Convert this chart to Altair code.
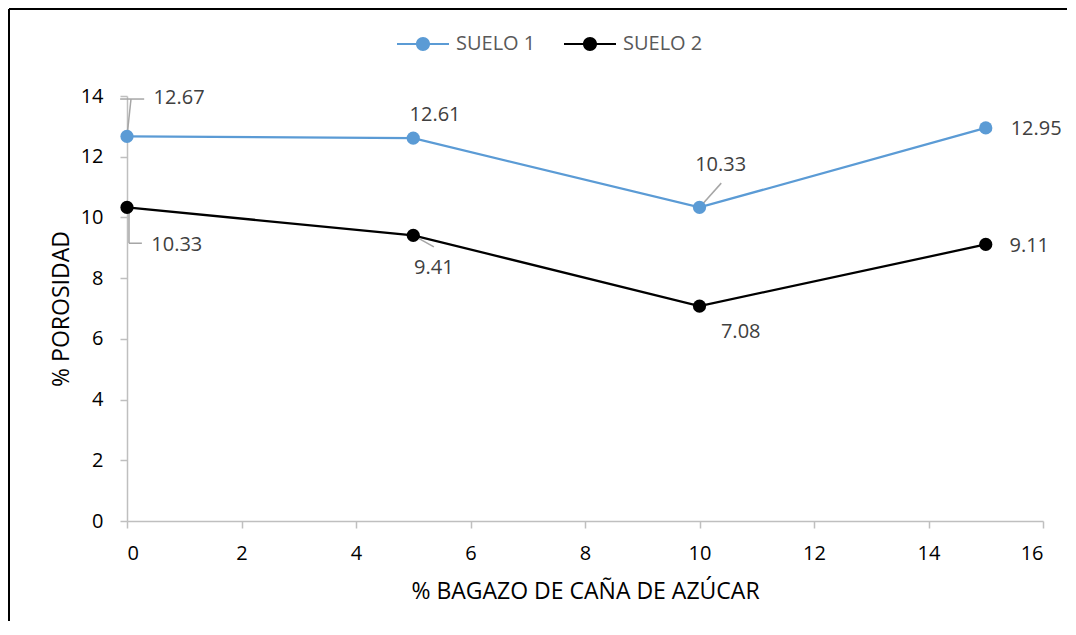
import altair as alt
import pandas as pd

# ---- data ----
x_vals = [0, 5, 10, 15]
suelo1 = [12.67, 12.61, 10.33, 12.95]
suelo2 = [10.33, 9.41, 7.08, 9.11]
series_names = ["SUELO 1", "SUELO 2"]
series_colors = ["#5b9bd5", "#000000"]

# data-label anchor positions (in data units)
lab1_x = [0.91, 5.38, 10.37, 15.88]
lab1_y = [13.93, 13.37, 11.73, 12.91]
lab2_x = [0.87, 5.36, 10.72, 15.76]
lab2_y = [9.09, 8.33, 6.23, 9.06]

# leader lines (data units): x, y, x2, y2
lead_x = [0.0, -0.12, 0.035, 0.035, 5.0, 10.0]
lead_y = [12.67, 13.9, 10.2, 9.15, 9.41, 10.33]
lead_x2 = [0.07, 0.30, 0.035, 0.26, 5.36, 10.38]
lead_y2 = [13.9, 13.9, 9.15, 9.15, 9.03, 11.13]

FONT = "Open Sans"

pts = pd.DataFrame({
    "x": x_vals * 2,
    "y": suelo1 + suelo2,
    "serie": [series_names[0]] * 4 + [series_names[1]] * 4,
})
labels = pd.DataFrame({
    "lx": lab1_x + lab2_x,
    "ly": lab1_y + lab2_y,
    "txt": [f"{v:.2f}" for v in suelo1 + suelo2],
})
leads = pd.DataFrame({"x": lead_x, "y": lead_y, "x2": lead_x2, "y2": lead_y2})

xscale = alt.Scale(domain=[0, 16], nice=False, zero=False)
yscale = alt.Scale(domain=[0, 14], nice=False)
color = alt.Scale(domain=series_names, range=series_colors)

# legend symbol: a thin filled bar (the line) plus a filled dot
LEG_PATH = ("M-2.6,-0.11L2.6,-0.11L2.6,0.11L-2.6,0.11Z"
            "M0.7,0A0.7,0.7,0,1,1,-0.7,0A0.7,0.7,0,1,1,0.7,0Z")

xaxis = alt.Axis(values=list(range(0, 17, 2)), format="d", title="% BAGAZO DE CAÑA DE AZÚCAR",
                 grid=False, labelFont=FONT, labelFontSize=20, labelColor="#000000",
                 labelPadding=15, tickSize=7, tickColor="#bfbfbf", domainColor="#bfbfbf",
                 domainWidth=1.5, tickWidth=1.5,
                 titleFont=FONT, titleFontSize=23, titleFontWeight="normal",
                 titleColor="#000000", titlePadding=17)
yaxis = alt.Axis(values=list(range(0, 15, 2)), format="d", title="% POROSIDAD",
                 grid=False, labelFont=FONT, labelFontSize=20, labelColor="#000000",
                 labelPadding=17, tickSize=7, tickColor="#bfbfbf", domainColor="#bfbfbf",
                 domainWidth=1.5, tickWidth=1.5,
                 titleFont=FONT, titleFontSize=23, titleFontWeight="normal",
                 titleColor="#000000", titlePadding=7)

legend = alt.Legend(
    title=None, orient="none", direction="horizontal", legendX=286, legendY=-62,
    labelFont=FONT, labelFontSize=20, labelColor="#595959",
    symbolType=LEG_PATH, symbolSize=400, symbolStrokeWidth=0, symbolOpacity=1,
    labelOffset=23, columnPadding=28, padding=0,
)

base = alt.Chart(pts)

line_layers = [
    base.transform_filter(alt.datum.serie == name)
        .mark_line(strokeWidth=2.25, color=col)
        .encode(x=alt.X("x:Q", scale=xscale, axis=xaxis),
                y=alt.Y("y:Q", scale=yscale, axis=yaxis))
    for name, col in zip(series_names, series_colors)
]

leader = alt.Chart(leads).mark_rule(color="#a6a6a6", strokeWidth=1.5).encode(
    x="x:Q", y="y:Q", x2="x2:Q", y2="y2:Q",
)

points = base.mark_point(filled=True, size=175, opacity=1).encode(
    x="x:Q", y="y:Q",
    color=alt.Color("serie:N", scale=color, legend=legend),
)

texts = alt.Chart(labels).mark_text(font=FONT, fontSize=20, color="#404040",
                                    align="center", baseline="middle").encode(
    x="lx:Q", y="ly:Q", text="txt:N",
)

# outer frame (top and left edges visible in the reference)
frame_top = alt.Chart(pts).mark_rule(color="#000000", strokeWidth=2).encode(
    x=alt.value(-118), x2=alt.value(960), y=alt.value(-87))
frame_left = alt.Chart(pts).mark_rule(color="#000000", strokeWidth=2).encode(
    x=alt.value(-118), y=alt.value(-87), y2=alt.value(540))

chart = alt.layer(*line_layers, leader, points, texts, frame_top, frame_left).properties(
    width=916, height=425,
    padding={"left": 119, "top": 88, "right": 24, "bottom": 100},
    autosize=alt.AutoSizeParams(type="none"),
).configure(background="#ffffff").configure_view(stroke=None, strokeWidth=0)

chart.save("out.html", embed_options={"renderer": "svg", "actions": False})
